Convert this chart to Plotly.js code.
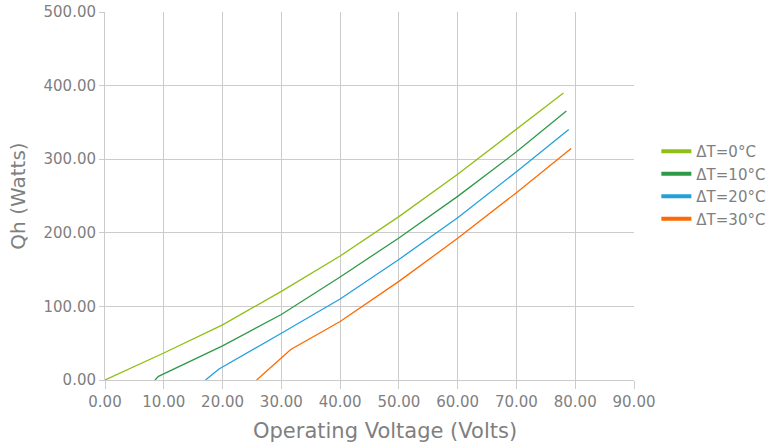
<!DOCTYPE html>
<html>
<head>
<meta charset="utf-8">
<script src="https://cdn.plot.ly/plotly-3.0.1.min.js"></script>
<style>html,body{margin:0;padding:0;background:#fff;}#chart{width:774px;height:448px;}</style>
</head>
<body>
<div id="chart"></div>
<script>
const seriesNames = ["ΔT=0°C", "ΔT=10°C", "ΔT=20°C", "ΔT=30°C"];
const seriesColors = ["#8fbf14", "#2e9a48", "#22a0dc", "#ff6a00"];

const v0 = [0, 10, 20, 30, 40, 50, 60, 70, 78.0];
const q0 = [0, 36.7, 75, 120.4, 168.5, 222, 279.5, 340.8, 390];

const v10 = [8.5, 9.1, 20, 30, 40, 50, 60, 70, 78.5];
const q10 = [0, 5, 46.3, 89, 140, 193, 249.5, 310, 365.4];

const v20 = [17.1, 19.4, 30, 40, 50, 60, 70, 78.9];
const q20 = [0, 15, 63.6, 110, 163.8, 220.5, 283, 340.4];

const v30 = [25.8, 31.6, 40, 50, 60, 70, 79.3];
const q30 = [0, 41.5, 79.5, 134, 192.5, 254.5, 314.5];

const xs = [v0, v10, v20, v30];
const ys = [q0, q10, q20, q30];

const traces = [];
for (let i = 0; i < 4; i++) {
  traces.push({x: xs[i], y: ys[i], type: "scatter", mode: "lines", name: seriesNames[i],
    line: {color: seriesColors[i], width: 1.3}, showlegend: false, hoverinfo: "skip"});
}
for (let i = 0; i < 4; i++) {
  traces.push({x: [null], y: [null], type: "scatter", mode: "lines", name: seriesNames[i],
    line: {color: seriesColors[i], width: 4}, showlegend: true});
}

const fontFam = "DejaVu Sans, sans-serif";
const grey = "#7f7f7f";
const layout = {
  width: 774, height: 448,
  margin: {l: 105, r: 140, t: 12, b: 68, pad: 0, autoexpand: false},
  paper_bgcolor: "#fff", plot_bgcolor: "#fff",
  font: {family: fontFam, color: grey, size: 15},
  showlegend: true,
  legend: {xref: "container", yref: "container", x: 0.848, xanchor: "left", y: 0.587, yanchor: "middle",
    font: {size: 15, color: grey}, tracegroupgap: 0, itemwidth: 30, bgcolor: "rgba(0,0,0,0)"},
  xaxis: {
    range: [0, 90], dtick: 10, tick0: 0, tickformat: ".2f",
    showgrid: true, gridcolor: "#cccccc", gridwidth: 1,
    zeroline: false, showline: true, linecolor: "#cccccc", linewidth: 1,
    ticks: "outside", ticklen: 8, tickcolor: "#cccccc",
    tickfont: {size: 15, color: grey}
  },
  yaxis: {
    range: [0, 500], dtick: 100, tick0: 0, tickformat: ".2f",
    showgrid: true, gridcolor: "#cccccc", gridwidth: 1,
    zeroline: false, showline: true, linecolor: "#cccccc", linewidth: 1,
    ticks: "outside", ticklen: 5, tickcolor: "#cccccc",
    tickfont: {size: 15, color: grey},
    title: {text: "Qh (Watts)", font: {size: 20, color: grey}, standoff: 12}
  },
  annotations: [{
    text: "Operating Voltage (Volts)", xref: "paper", yref: "paper",
    x: 0.530, y: -0.138, xanchor: "center", yanchor: "middle", showarrow: false,
    font: {size: 21, color: grey, family: fontFam}
  }]
};

Plotly.newPlot("chart", traces, layout, {displayModeBar: false, staticPlot: true});
</script>
</body>
</html>
